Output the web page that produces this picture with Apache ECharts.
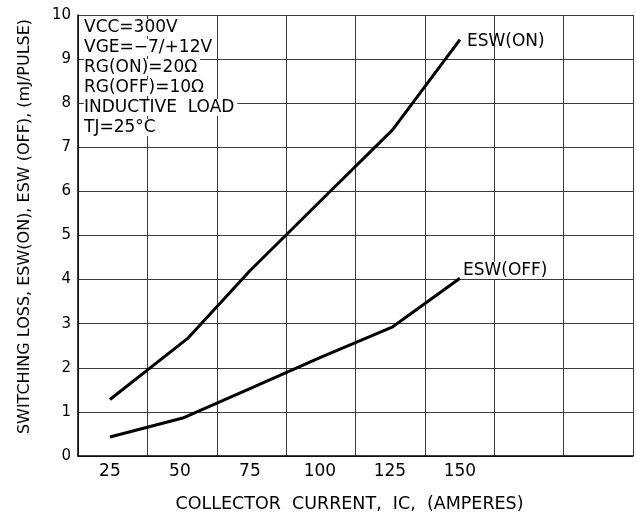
<!DOCTYPE html>
<html>
<head>
<meta charset="utf-8">
<script src="https://cdn.jsdelivr.net/npm/echarts@6/dist/echarts.min.js"></script>
<style>
  html, body { margin: 0; padding: 0; background: #fff; }
  #chart { width: 636px; height: 518px; }
</style>
</head>
<body>
<div id="chart"></div>
<script>
// values (x in amperes, y in mJ/pulse)
const currentOn = [25, 53, 75, 100, 126, 150];
const eswOn = [1.28, 2.68, 4.2, 5.77, 7.4, 9.44];
const currentOff = [25, 51, 75, 100, 126, 150];
const eswOff = [0.43, 0.86, 1.53, 2.23, 2.93, 4.03];
const xTicks = [25, 50, 75, 100, 125, 150];
const notes = ["VCC=300V", "VGE=\u22127/+12V", "RG(ON)=20\u03a9", "RG(OFF)=10\u03a9", "INDUCTIVE  LOAD", "TJ=25\u00b0C"];

const font = "DejaVu Sans, sans-serif";
const pair = (xs, ys) => xs.map((x, i) => [x, ys[i]]);

const myChart = echarts.init(document.getElementById("chart"));
myChart.setOption({
  animation: false,
  backgroundColor: "#fff",
  grid: { left: 78, right: 3, top: 15, bottom: 59 },
  xAxis: [
    {
      type: "value",
      min: 13.6,
      max: 211.8,
      name: "COLLECTOR  CURRENT,  IC,  (AMPERES)",
      nameLocation: "middle",
      nameGap: 39,
      nameTextStyle: { fontFamily: font, fontSize: 17.5, color: "#000", padding: [0, 12, 0, 0] },
      axisLine: { lineStyle: { color: "#000", width: 1.5 } },
      axisTick: { show: false },
      splitLine: { show: false },
      axisLabel: {
        customValues: xTicks,
        margin: 7,
        fontFamily: font,
        fontSize: 17,
        color: "#000",
      },
    },
    {
      // plain 8-column grid, not tied to the tick labels
      type: "value",
      min: 0,
      max: 8,
      interval: 1,
      position: "bottom",
      axisLine: { show: false },
      axisTick: { show: false },
      axisLabel: { show: false },
      splitLine: { show: true, lineStyle: { color: "#3a3a3a", width: 1 } },
    },
  ],
  yAxis: {
    type: "value",
    min: 0,
    max: 10,
    interval: 1,
    name: "SWITCHING LOSS, ESW(ON), ESW (OFF), (mJ/PULSE)",
    nameLocation: "middle",
    nameGap: 45,
    nameTextStyle: { fontFamily: font, fontSize: 16, color: "#000", padding: [0, 0, 0, 18] },
    axisLine: { show: true, lineStyle: { color: "#000", width: 1.5 } },
    axisTick: { show: false },
    axisLabel: { margin: 7, fontFamily: font, fontSize: 15, color: "#000" },
    splitLine: { show: true, lineStyle: { color: "#3a3a3a", width: 1 } },
  },
  graphic: notes.map((t, i) => ({
    type: "text",
    left: 84,
    top: 19 + i * 20,
    z: 100,
    style: {
      text: t,
      font: "17px " + font,
      fill: "#000",
      backgroundColor: "#fff",
      padding: [0, 3, 0, 0],
    },
  })),
  series: [
    {
      name: "ESW(ON)",
      type: "line",
      data: pair(currentOn, eswOn),
      symbol: "none",
      lineStyle: { color: "#000", width: 3 },
      endLabel: {
        show: true,
        formatter: "{a}",
        distance: 7,
        offset: [0, 2],
        fontFamily: font,
        fontSize: 17,
        color: "#000",
      },
    },
    {
      name: "ESW(OFF)",
      type: "line",
      data: pair(currentOff, eswOff),
      symbol: "none",
      lineStyle: { color: "#000", width: 3 },
      endLabel: {
        show: true,
        formatter: "{a}",
        distance: 3,
        offset: [0, -8],
        fontFamily: font,
        fontSize: 17,
        color: "#000",
        backgroundColor: "#fff",
      },
    },
  ],
});
</script>
</body>
</html>
